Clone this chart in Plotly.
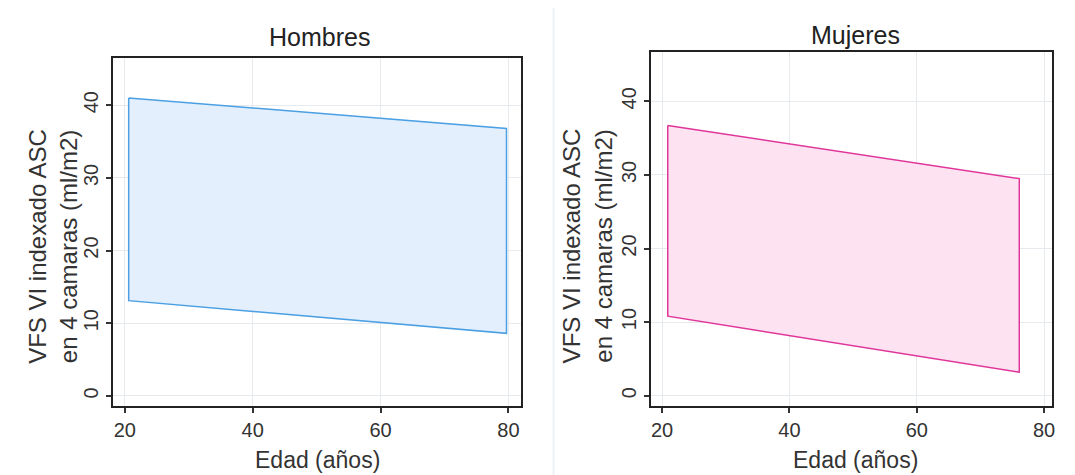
import plotly.graph_objects as go

# Data
edad_ticks = [20, 40, 60, 80]
vfs_ticks = [0, 10, 20, 30, 40]

hombres_edad = [20.6, 79.7]
hombres_sup = [41.0, 36.8]
hombres_inf = [13.1, 8.6]

mujeres_edad = [20.9, 76.1]
mujeres_sup = [36.7, 29.5]
mujeres_inf = [10.8, 3.2]

titles = ["Hombres", "Mujeres"]
y_title = "VFS VI indexado ASC<br>en 4 camaras (ml/m2)"
x_title = "Edad (años)"

FONT = "Liberation Sans, Arial, sans-serif"
W, H = 1075, 475


def polygon(xs, sup, inf):
    px = [xs[0], xs[1], xs[1], xs[0], xs[0]]
    py = [sup[0], sup[1], inf[1], inf[0], sup[0]]
    return px, py


fig = go.Figure()

hx, hy = polygon(hombres_edad, hombres_sup, hombres_inf)
fig.add_trace(go.Scatter(x=hx, y=hy, mode="lines", fill="toself",
                         fillcolor="#e3effc", line=dict(color="#4b9fe3", width=1.5),
                         xaxis="x", yaxis="y", showlegend=False, hoverinfo="skip"))
mx, my = polygon(mujeres_edad, mujeres_sup, mujeres_inf)
fig.add_trace(go.Scatter(x=mx, y=my, mode="lines", fill="toself",
                         fillcolor="#fde3f2", line=dict(color="#e0369a", width=1.5),
                         xaxis="x2", yaxis="y2", showlegend=False, hoverinfo="skip"))

def px2x(p):
    return p / W

def px2y(p):
    return 1 - p / H

axis_common = dict(
    showline=True, linecolor="#222222", linewidth=2, mirror=True,
    ticks="outside", ticklen=5, tickwidth=1.5, tickcolor="#333333",
    showgrid=True, gridcolor="#e6eaee", gridwidth=1, zeroline=False,
    tickfont=dict(family=FONT, size=20, color="#333333"),
)

fig.update_layout(
    width=W, height=H,
    margin=dict(l=0, r=0, t=0, b=0),
    paper_bgcolor="white", plot_bgcolor="white",
    font=dict(family=FONT, color="#222222"),
    xaxis=dict(domain=[px2x(105), px2x(514)], range=[18.1, 81.9],
               tickvals=edad_ticks, anchor="y", **axis_common),
    yaxis=dict(domain=[px2y(398), px2y(50)], range=[-1.4, 46.5],
               tickvals=vfs_ticks, tickangle=-90, anchor="x", **axis_common),
    xaxis2=dict(domain=[px2x(645), px2x(1047)], range=[18.3, 81.25],
                tickvals=edad_ticks, anchor="y2", **axis_common),
    yaxis2=dict(domain=[px2y(398), px2y(44)], range=[-1.4, 46.7],
                tickvals=vfs_ticks, tickangle=-90, anchor="x2", **axis_common),
)

annotations = []
# Titles
annotations.append(dict(text=titles[0], x=px2x(312), y=px2y(29), xref="paper", yref="paper",
                        showarrow=False, font=dict(family=FONT, size=25, color="#222222"),
                        xanchor="center", yanchor="middle"))
annotations.append(dict(text=titles[1], x=px2x(850), y=px2y(27), xref="paper", yref="paper",
                        showarrow=False, font=dict(family=FONT, size=25, color="#222222"),
                        xanchor="center", yanchor="middle"))
# X titles
for cx in (310, 850):
    annotations.append(dict(text=x_title, x=px2x(cx), y=px2y(452), xref="paper", yref="paper",
                            showarrow=False, font=dict(family=FONT, size=23, color="#333333"),
                            xanchor="center", yanchor="middle"))
# Y titles
for cx in (45, 581):
    annotations.append(dict(text=y_title, x=px2x(cx), y=px2y(238), xref="paper", yref="paper",
                            showarrow=False, textangle=-90,
                            font=dict(family=FONT, size=24, color="#333333"),
                            xanchor="center", yanchor="middle"))
fig.update_layout(annotations=annotations)

# faint panel separator
fig.add_shape(type="line", xref="paper", yref="paper", x0=px2x(547), x1=px2x(547),
              y0=0, y1=1, line=dict(color="#eef1f4", width=2))

fig.write_html("out.html")
